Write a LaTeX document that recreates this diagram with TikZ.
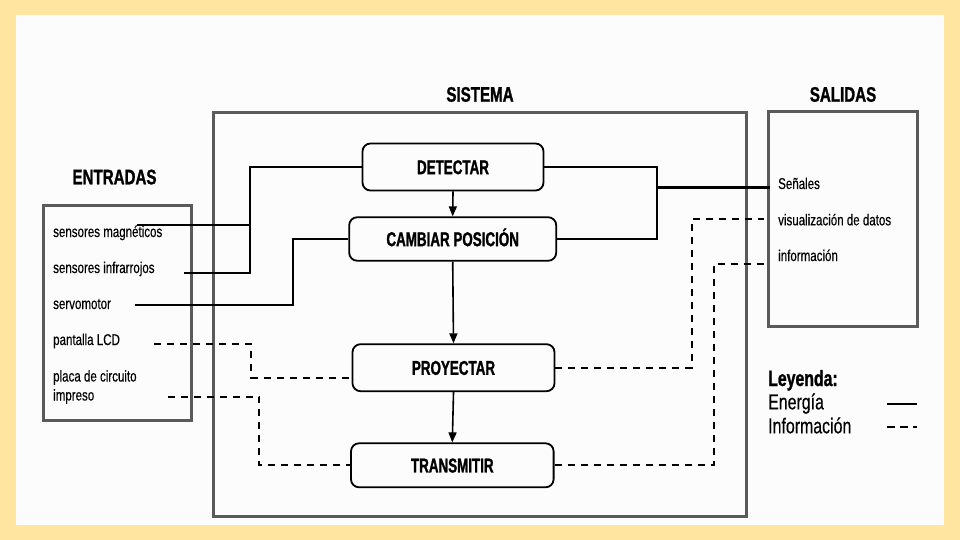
\documentclass[tikz,border=0pt]{standalone}
\usepackage{fontspec}
\setmainfont{Liberation Sans}[FakeStretch=0.74, FakeBold=0.35]
\newfontfamily\titlefont{Liberation Sans}[FakeStretch=0.72, BoldFeatures={FakeBold=1.2}]
\newfontfamily\boxfont{Liberation Sans}[FakeStretch=0.67, BoldFeatures={FakeBold=1.2}]
\usetikzlibrary{arrows.meta}
\definecolor{bgyellow}{HTML}{FFE5A0}
\definecolor{bginner}{HTML}{FCFCFC}
\definecolor{framegray}{HTML}{5A5A5A}
\tikzset{
  bigbox/.style={draw=framegray, line width=3pt, inner sep=0pt, outer sep=0pt},
  stepbox/.style={draw=black, line width=1.8pt, rounded corners=8pt, inner sep=0pt,
    font=\boxfont\bfseries\fontsize{20}{22}\selectfont, text height=14.3pt, text depth=0pt},
  titletext/.style={anchor=base, inner sep=0pt, font=\titlefont\bfseries\fontsize{21}{23}\selectfont},
  labeltext/.style={anchor=base west, inner sep=0pt, font=\fontsize{15.6}{19}\selectfont},
  legendtext/.style={anchor=base west, inner sep=0pt, font=\fontsize{21.5}{24}\selectfont},
  energy/.style={draw=black, line width=2pt},
  info/.style={draw=black, line width=2pt, dash pattern=on 7pt off 6pt},
  flow/.style={draw=black, line width=1.6pt, -{Triangle[length=10pt,width=8pt]}}
}
\begin{document}
\begin{tikzpicture}[x=1pt,y=-1pt]
\useasboundingbox (0,0) rectangle (960,540);
\fill[bgyellow] (0,0) rectangle (960,540);
\fill[bginner] (16,15) rectangle (944,525);

% frames
\node[bigbox, minimum width=532.5pt, minimum height=403.5pt] (sis) at (479.75,314.25) {};
\node[bigbox, minimum width=148.7pt, minimum height=214.7pt] (ent) at (117.6,313.3) {};
\node[bigbox, minimum width=149.5pt, minimum height=214pt] (sal) at (842.75,219) {};

% titles
\node[titletext] (tsis) at (480,101.7) {SISTEMA};
\node[titletext] (tent) at (114.5,184.3) {ENTRADAS};
\node[titletext] (tsal) at (843,101.7) {SALIDAS};

% process boxes
\node[stepbox, minimum width=181pt, minimum height=47pt] (det) at (453,167) {DETECTAR};
\node[stepbox, minimum width=207pt, minimum height=43.5pt] (cam) at (452.7,239) {CAMBIAR POSICIÓN};
\node[stepbox, minimum width=202pt, minimum height=47pt] (pro) at (453.5,367.7) {PROYECTAR};
\node[stepbox, minimum width=202.6pt, minimum height=44pt] (tra) at (452.3,465.3) {TRANSMITIR};

% input labels
\node[labeltext] (mag) at (53,237) {sensores magnéticos};
\node[labeltext] (inf) at (53,273) {sensores infrarrojos};
\node[labeltext] (ser) at (53,309) {servomotor};
\node[labeltext] (lcd) at (53,345) {pantalla LCD};
\node[labeltext, anchor=north west, align=left] (pla) at (53,370) {placa de circuito\\impreso};

% output labels
\node[labeltext] (sen) at (778,189) {Señales};
\node[labeltext] (vis) at (778,225.3) {visualización de datos};
\node[labeltext] (inform) at (778,261) {información};

% legend
\node[legendtext, font=\titlefont\bfseries\fontsize{22}{24}\selectfont] (ley) at (768,386) {Leyenda:};
\node[legendtext] (ene) at (768,409.3) {Energía};
\node[legendtext] (inl) at (768,433.3) {Información};
\coordinate (le1) at (886.7,404);
\coordinate (le2) at (917.3,404);
\coordinate (li1) at (886.7,426.5);
\coordinate (li2) at (917.3,426.5);
\draw[energy] (le1) -- (le2);
\draw[info, dash pattern=on 8pt off 5pt] (li1) -- (li2);

% connector free ends
\coordinate (cmag) at (137,225);
\coordinate (cinf) at (184,273);
\coordinate (cser) at (135,304.5);
\coordinate (clcd) at (154,344);
\coordinate (cpla) at (168,396.7);
\coordinate (csen) at (770,187.3);
\coordinate (cvis) at (764,219.3);
\coordinate (cinfo) at (767,264.3);

% energy connectors
\draw[energy] (cinf) -- (250,273) |- (det.west);
\draw[energy] (cmag) -- (250,225);
\draw[energy] (cser) -- (292.5,304.5) |- (cam.west);
\draw[energy] (det.east) -- (657,167) |- (cam.east);
\draw[energy, line width=2.6pt] (657,187.3) -- (csen);

% information connectors
\draw[info] (clcd) -- (251,344) |- ([yshift=-9.8pt]pro.west);
\draw[info] (cpla) -- (259.3,396.7) |- (tra.west);
\draw[info] (pro.east) -- (691.7,367.7) |- (cvis);
\draw[info] (tra.east) -- (713.5,465.3) |- (cinfo);

% flow arrows
\draw[flow] (det.south) -- (cam.north);
\draw[flow] (cam.south) -- (pro.north);
\draw[flow] (pro.south) -- (tra.north);
\end{tikzpicture}
\end{document}
